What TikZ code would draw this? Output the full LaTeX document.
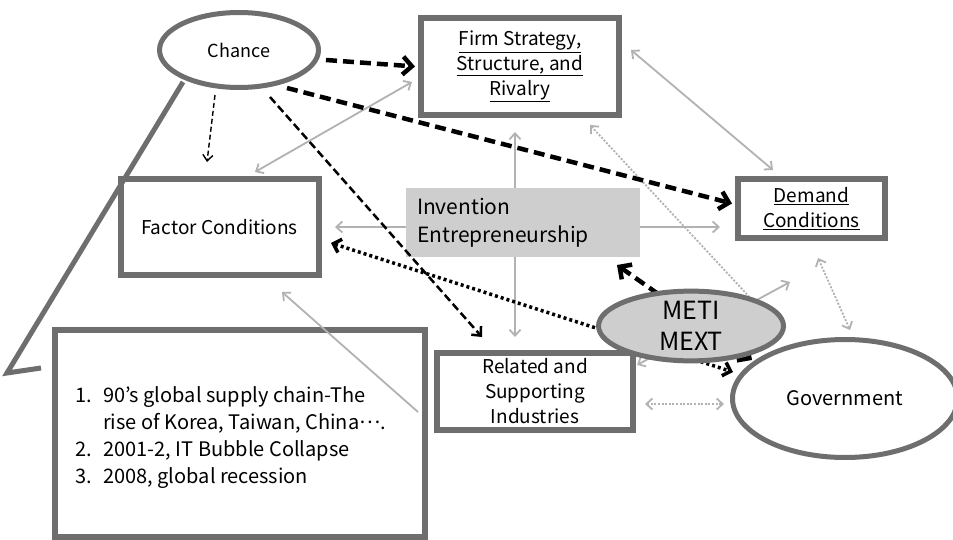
\documentclass[tikz,border=0pt]{standalone}
\usepackage{fontspec}
\setmainfont{Noto Sans CJK JP}
\usetikzlibrary{arrows.meta,shapes.geometric,calc}
\definecolor{bordergray}{RGB}{110,110,110}
\definecolor{fillgray}{RGB}{206,206,206}
\definecolor{arrgray}{RGB}{178,178,178}
\pgfdeclarelayer{paper}
\pgfdeclarelayer{bg}
\pgfsetlayers{paper,bg,main}
\tikzset{
  frame/.style={draw=bordergray, line width=6pt, fill=white, inner sep=0pt, align=center},
  oval/.style={ellipse, draw=bordergray, line width=5pt, fill=white, inner sep=0pt, align=center},
  txt/.style={font=\fontsize{19}{25}\selectfont},
  garrow/.style={draw=arrgray, line width=1.8pt, line cap=butt,
     arrows={Straight Barb[length=6pt,width=11pt]-Straight Barb[length=6pt,width=11pt]}},
  gdot/.style={garrow, dash pattern=on 2pt off 1.6pt},
  bigdash/.style={draw=black, line width=4.5pt, dash pattern=on 11pt off 6pt},
  meddash/.style={draw=black, line width=2.5pt, dash pattern=on 8pt off 4pt},
  thindash/.style={draw=black, line width=1.4pt, dash pattern=on 5pt off 3pt},
  dotline/.style={draw=black, line width=3.5pt, dash pattern=on 3pt off 3pt},
  bigtip/.style={-{Straight Barb[length=9pt,width=18pt]}},
  bigtips/.style={{Straight Barb[length=9pt,width=18pt]}-{Straight Barb[length=9pt,width=18pt]}},
  medtip/.style={-{Straight Barb[length=7pt,width=13pt]}},
  thintip/.style={-{Straight Barb[length=6pt,width=10pt]}},
  dottips/.style={{Straight Barb[length=7pt,width=14pt]}-{Straight Barb[length=7pt,width=14pt]}},
}
\begin{document}
\begin{tikzpicture}[x=1pt,y=-1pt]
\useasboundingbox (0,0) rectangle (953,540);
\begin{pgfonlayer}{paper}
\fill[white] (0,0) rectangle (953,540);
\end{pgfonlayer}

% nodes
\node[oval, minimum width=159pt, minimum height=75pt, font=\fontsize{18}{22}\selectfont] (chance) at (239,50) {Chance};
\node[frame, minimum width=198pt, minimum height=97pt, txt] (firm) at (520,66.5)
  {\underline{Firm Strategy,}\\\underline{Structure, and}\\\underline{Rivalry}};
\node[frame, minimum width=198pt, minimum height=95pt, txt] (factor) at (219.5,227) {Factor Conditions};
\node[fill=fillgray, inner sep=0pt, inner xsep=11pt, minimum width=234pt, minimum height=69pt,
  text width=212pt, align=left, font=\fontsize{21}{28}\selectfont] (inv) at (523,222.5)
  {Invention\\Entrepreneurship};
\node[frame, minimum width=147pt, minimum height=59pt, txt] (demand) at (811.5,208.5)
  {\underline{Demand}\\\underline{Conditions}};
\node[frame, minimum width=196pt, minimum height=77pt, txt] (related) at (535,391.5)
  {Related and\\Supporting\\Industries};
\node[oval, minimum width=225pt, minimum height=118pt, font=\fontsize{20}{24}\selectfont] (gov) at (845,398.5) {Government};
\node[draw=bordergray, line width=6pt, inner sep=0pt, minimum width=370pt, minimum height=207pt] (list) at (240,433.5) {};
\node[anchor=west, inner sep=0pt, font=\fontsize{20}{27}\selectfont] (listtext) at (75,437.5)
  {\begin{tabular}{@{}l@{}l@{}}
   \makebox[28pt][l]{1.} & 90’s global supply chain-The\\
   & rise of Korea, Taiwan, China\raisebox{0.3em}{…}.\\
   \makebox[28pt][l]{2.} & 2001-2, IT Bubble Collapse\\
   \makebox[28pt][l]{3.} & 2008, global recession
   \end{tabular}};
\node[oval, fill=fillgray, minimum width=185pt, minimum height=57pt, font=\fontsize{25}{31}\selectfont] (meti) at (691,326)
  {METI\\MEXT};

\begin{pgfonlayer}{bg}
  % gray connectors
  \draw[garrow] ($(firm)+(-108,15.5)$) -- ($(factor)+(35.5,-55)$);
  \draw[garrow] ($(firm)+(111,-16.5)$) -- ($(demand)+(-38.5,-38.5)$);
  \draw[gdot, arrows={Straight Barb[length=6pt,width=11pt]-}] ($(firm)+(70,58.5)$) -- ($(meti)+(64,-23)$);
  \draw[gdot] ($(demand)+(6.5,49.5)$) -- ($(gov)+(5,-68.5)$);
  \draw[garrow] ($(factor)+(115.5,0)$) -- ($(demand)+(-91.5,18.5)$);
  \draw[garrow] ($(firm)+(-5,65.5)$) -- ($(related)+(-20,-54.5)$);
  \draw[garrow] ($(related)+(102,-26.5)$) -- ($(demand)+(-21.5,73.5)$);
  \draw[gdot] ($(related)+(110,12.5)$) -- ($(gov)+(-121,5.5)$);
  % black connectors behind METI
  \draw[dotline, dottips] ($(factor.east)+(9.5,16)$) -- ($(gov)+(-112,-26.5)$);
  \draw[bigdash, bigtips] ($(inv)+(94,42.5)$) -- ($(gov)+(-93,-38.5)$);
\end{pgfonlayer}

% gray connector over list box
\draw[garrow, arrows={Straight Barb[length=6pt,width=11pt]-}] ($(factor)+(62.5,65)$) -- ($(related)+(-117,20.5)$);

% callout pointer
\draw[draw=bordergray, line width=5pt, line join=miter] ($(chance)+(-56,32)$) -- (7,373) -- (41,368);

% black connectors from Chance
\draw[bigdash, bigtip] ($(chance)+(87,10)$) -- ($(firm.west)+(-3,0)$);
\draw[bigdash, bigtip] ($(chance)+(48,38)$) -- ($(demand.west)+(-3,-5)$);
\draw[thindash, thintip] ($(chance)+(-24,45)$) -- ($(factor)+(-12.5,-65)$);
\draw[meddash, medtip] ($(chance)+(31,47)$) -- ($(related)+(-53,-54.5)$);
\end{tikzpicture}
\end{document}
